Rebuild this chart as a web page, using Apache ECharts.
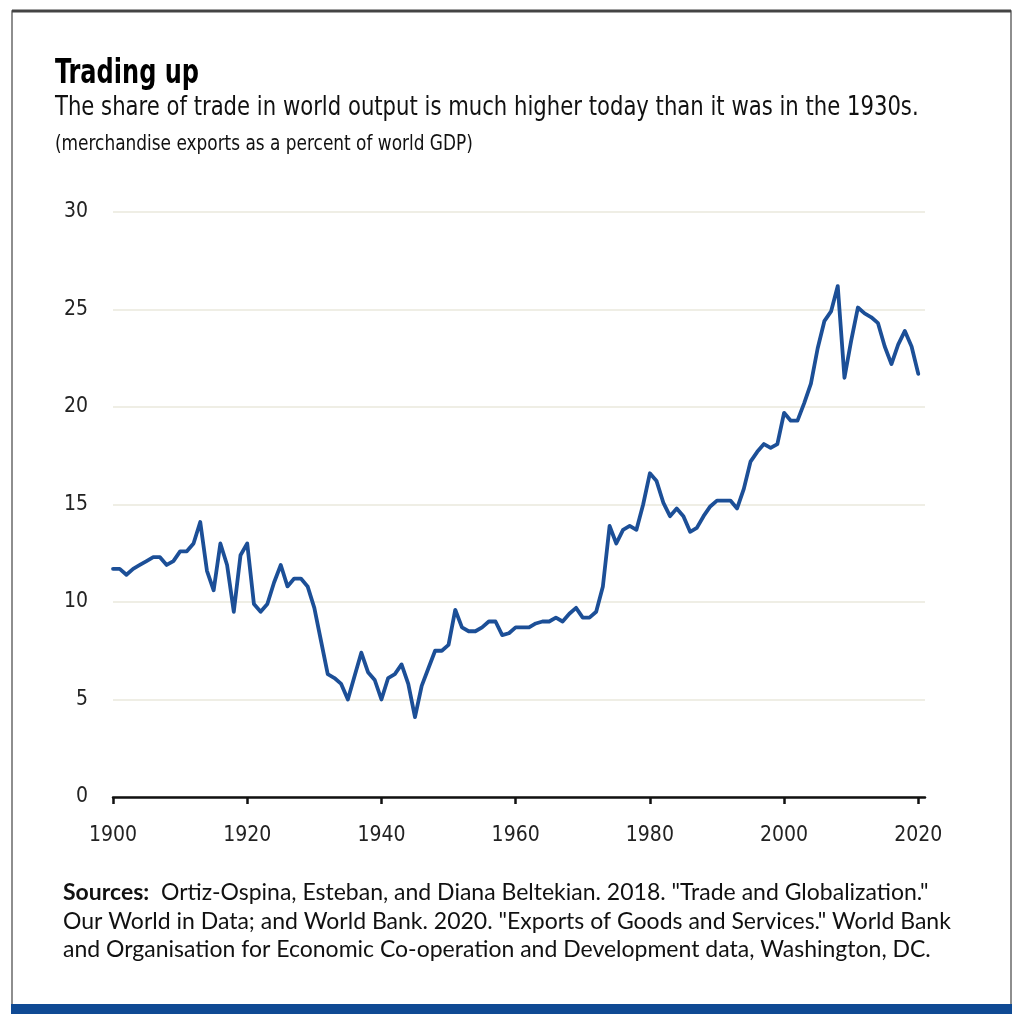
<!DOCTYPE html>
<html>
<head>
<meta charset="utf-8">
<title>Trading up</title>
<script src="https://cdn.jsdelivr.net/npm/echarts@6/dist/echarts.min.js"></script>
<style>
    html, body { margin: 0; padding: 0; background: #fff; }
    #chart { width: 1024px; height: 1034px; }
</style>
</head>
<body>
<div id="chart"></div>
<script>
    // merchandise exports as a percent of world GDP, 1900-2020
    var startYear = 1900;
    var exportShare = [
        11.7, 11.7, 11.4, 11.7, 11.9, 12.1, 12.3, 12.3, 11.9, 12.1,   // 1900s
        12.6, 12.6, 13.0, 14.1, 11.6, 10.6, 13.0, 11.9, 9.5, 12.4,    // 1910s
        13.0, 9.9, 9.5, 9.9, 11.0, 11.9, 10.8, 11.2, 11.2, 10.8,      // 1920s
        9.7, 8.0, 6.3, 6.1, 5.8, 5.0, 6.2, 7.4, 6.4, 6.0,             // 1930s
        5.0, 6.1, 6.3, 6.8, 5.8, 4.1, 5.7, 6.6, 7.5, 7.5,             // 1940s
        7.8, 9.6, 8.7, 8.5, 8.5, 8.7, 9.0, 9.0, 8.3, 8.4,             // 1950s
        8.7, 8.7, 8.7, 8.9, 9.0, 9.0, 9.2, 9.0, 9.4, 9.7,             // 1960s
        9.2, 9.2, 9.5, 10.8, 13.9, 13.0, 13.7, 13.9, 13.7, 15.0,      // 1970s
        16.6, 16.2, 15.1, 14.4, 14.8, 14.4, 13.6, 13.8, 14.4, 14.9,   // 1980s
        15.2, 15.2, 15.2, 14.8, 15.8, 17.2, 17.7, 18.1, 17.9, 18.1,   // 1990s
        19.7, 19.3, 19.3, 20.2, 21.2, 23.0, 24.4, 24.9, 26.2, 21.5,   // 2000s
        23.4, 25.1, 24.8, 24.6, 24.3, 23.1, 22.2, 23.2, 23.9, 23.1,   // 2010s
        21.7                                                          // 2020
    ];
    // axis runs one year past the last point
    var years = [];
    for (var i = 0; i <= exportShare.length; i++) {
        years.push(String(startYear + i));
    }
    var yTicks = [0, 5, 10, 15, 20, 25, 30];

    var titleText = 'Trading up';
    var subtitleText = 'The share of trade in world output is much higher today than it was in the 1930s.';
    var noteText = '(merchandise exports as a percent of world GDP)';
    var sourceLines = [
        '{b|Sources:}  Ortiz-Ospina, Esteban, and Diana Beltekian. 2018. "Trade and Globalization."',
        'Our World in Data; and World Bank. 2020. "Exports of Goods and Services." World Bank',
        'and Organisation for Economic Co-operation and Development data, Washington, DC.'
    ];

    var narrow = "'Liberation Sans Narrow', 'DejaVu Sans Condensed', 'Roboto Condensed', sans-serif";
    var body = "Lato, 'Noto Sans', sans-serif";
    var lineBlue = '#1c4f97';

    var chart = echarts.init(document.getElementById('chart'));

    // headings are squeezed sideways to look like the condensed face of the original
    var graphics = [
        // frame
        { type: 'rect', shape: { x: 12, y: 11, width: 999, height: 994 },
          style: { fill: 'none', stroke: '#6a6a6a', lineWidth: 1.5 }, silent: true },
        { type: 'line', shape: { x1: 12, y1: 11, x2: 1011, y2: 11 },
          style: { stroke: '#444', lineWidth: 3 }, silent: true },
        { type: 'rect', shape: { x: 11, y: 1004, width: 1001, height: 10 },
          style: { fill: '#0f4a94' }, silent: true },
        // headings
        { type: 'text', x: 55, y: 74, scaleX: 0.81, style: { text: titleText, fontFamily: narrow, fontSize: 33,
          fontWeight: 'bold', fill: '#000', verticalAlign: 'middle' } },
        { type: 'text', x: 55, y: 107.5, scaleX: 0.872, style: { text: subtitleText, fontFamily: narrow, fontSize: 27,
          fill: '#111', verticalAlign: 'middle' } },
        { type: 'text', x: 55, y: 144.5, scaleX: 0.897, style: { text: noteText, fontFamily: narrow, fontSize: 21,
          fill: '#111', verticalAlign: 'middle' } }
    ];
    for (var j = 0; j < sourceLines.length; j++) {
        graphics.push({
            type: 'text', x: 63, y: 893 + j * 28.5,
            style: {
                text: sourceLines[j], fontFamily: body, fontSize: 23, fill: '#111',
                verticalAlign: 'middle',
                rich: { b: { fontFamily: body, fontSize: 23, fontWeight: 'bold', fill: '#111' } }
            }
        });
    }

    var everyTwenty = function (idx) { return idx % 20 === 0; };

    var option = {
        animation: false,
        backgroundColor: '#fff',
        grid: { left: 113, right: 99, top: 212, bottom: 237, containLabel: false },
        xAxis: {
            type: 'category',
            data: years,
            boundaryGap: false,
            axisLine: { show: true, lineStyle: { color: '#111', width: 2.5 } },
            axisTick: { show: true, interval: everyTwenty, length: 7, lineStyle: { color: '#111', width: 2.5 } },
            axisLabel: { interval: everyTwenty, margin: 28, fontFamily: narrow, fontSize: 21, color: '#222' },
            splitLine: { show: false }
        },
        yAxis: {
            type: 'value',
            min: yTicks[0],
            max: yTicks[yTicks.length - 1],
            interval: yTicks[1] - yTicks[0],
            axisLine: { show: false },
            axisTick: { show: false },
            axisLabel: { margin: 25, fontFamily: narrow, fontSize: 21, color: '#222' },
            splitLine: { lineStyle: { color: '#efeee5', width: 2 } }
        },
        series: [{
            type: 'line',
            data: exportShare,
            showSymbol: false,
            symbol: 'none',
            lineStyle: { color: lineBlue, width: 3.8, join: 'round', cap: 'round' },
            z: 5
        }],
        graphic: graphics
    };
    chart.setOption(option);
</script>
</body>
</html>
